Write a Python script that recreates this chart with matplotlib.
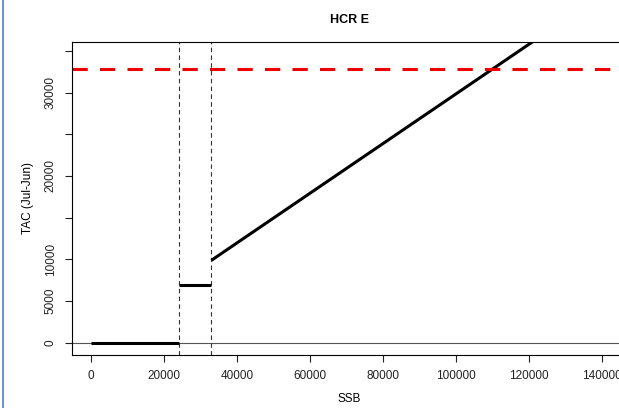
import matplotlib.pyplot as plt
from matplotlib.lines import Line2D

plt.rcParams['font.family'] = ['Liberation Sans', 'DejaVu Sans']

# harvest control rule segments
ssb_low = [0, 24000]
tac_low = [0, 0]
ssb_mid = [24000, 33000]
tac_mid = [7000, 7000]
ssb_high = [33000, 150000]
tac_high = [9900, 44700]
blim = 24000
bpa = 33000
tac_cap = 32800

x_ticks = [0, 20000, 40000, 60000, 80000, 100000, 120000, 140000]
y_ticks = [0, 5000, 10000, 15000, 20000, 25000, 30000, 35000]
y_labels = ['0', '5000', '10000', '', '20000', '', '30000', '']

fig = plt.figure(figsize=(6.19, 4.08), dpi=100)
ax = fig.add_axes([72 / 619, 1 - 355 / 408, (626 - 72) / 619, (355 - 42) / 408])

ax.axhline(0, color='#555555', lw=0.8)
ax.axvline(blim, color='#333333', lw=0.8, ls=(0, (4, 3)))
ax.axvline(bpa, color='#333333', lw=0.8, ls=(0, (4, 3)))
ax.plot(ssb_low, tac_low, color='black', lw=2.2, solid_capstyle='butt')
ax.plot(ssb_mid, tac_mid, color='black', lw=2.2, solid_capstyle='butt')
ax.plot(ssb_high, tac_high, color='black', lw=2.2, solid_capstyle='butt')
ax.axhline(tac_cap, color='#ee0000', lw=2.2, ls=(0, (5, 4)))

ax.set_xlim(-5200, 146600)
ax.set_ylim(-1440, 36050)
ax.set_xticks(x_ticks)
ax.set_xticklabels([str(v) for v in x_ticks])
ax.set_yticks(y_ticks)
ax.set_yticklabels(y_labels, rotation=90, va='center')
ax.tick_params(direction='out', length=5, width=0.8, labelsize=8.5, colors='#222222')
ax.tick_params(axis='x', pad=6)
ax.tick_params(axis='y', pad=6)
for s in ax.spines.values():
    s.set_linewidth(0.8)
ax.spines['right'].set_visible(False)

ax.set_title('HCR E', fontsize=9, fontweight='bold', pad=14)
ax.set_xlabel('SSB', fontsize=8.5, labelpad=8)
ax.set_ylabel('TAC (Jul-Jun)', fontsize=8.5, labelpad=8)

# window border on the left
fig.add_artist(Line2D([3 / 619, 3 / 619], [0, 1], color='#4f82c8', lw=1.2,
                      transform=fig.transFigure))

fig.savefig('out.png', dpi=100)
